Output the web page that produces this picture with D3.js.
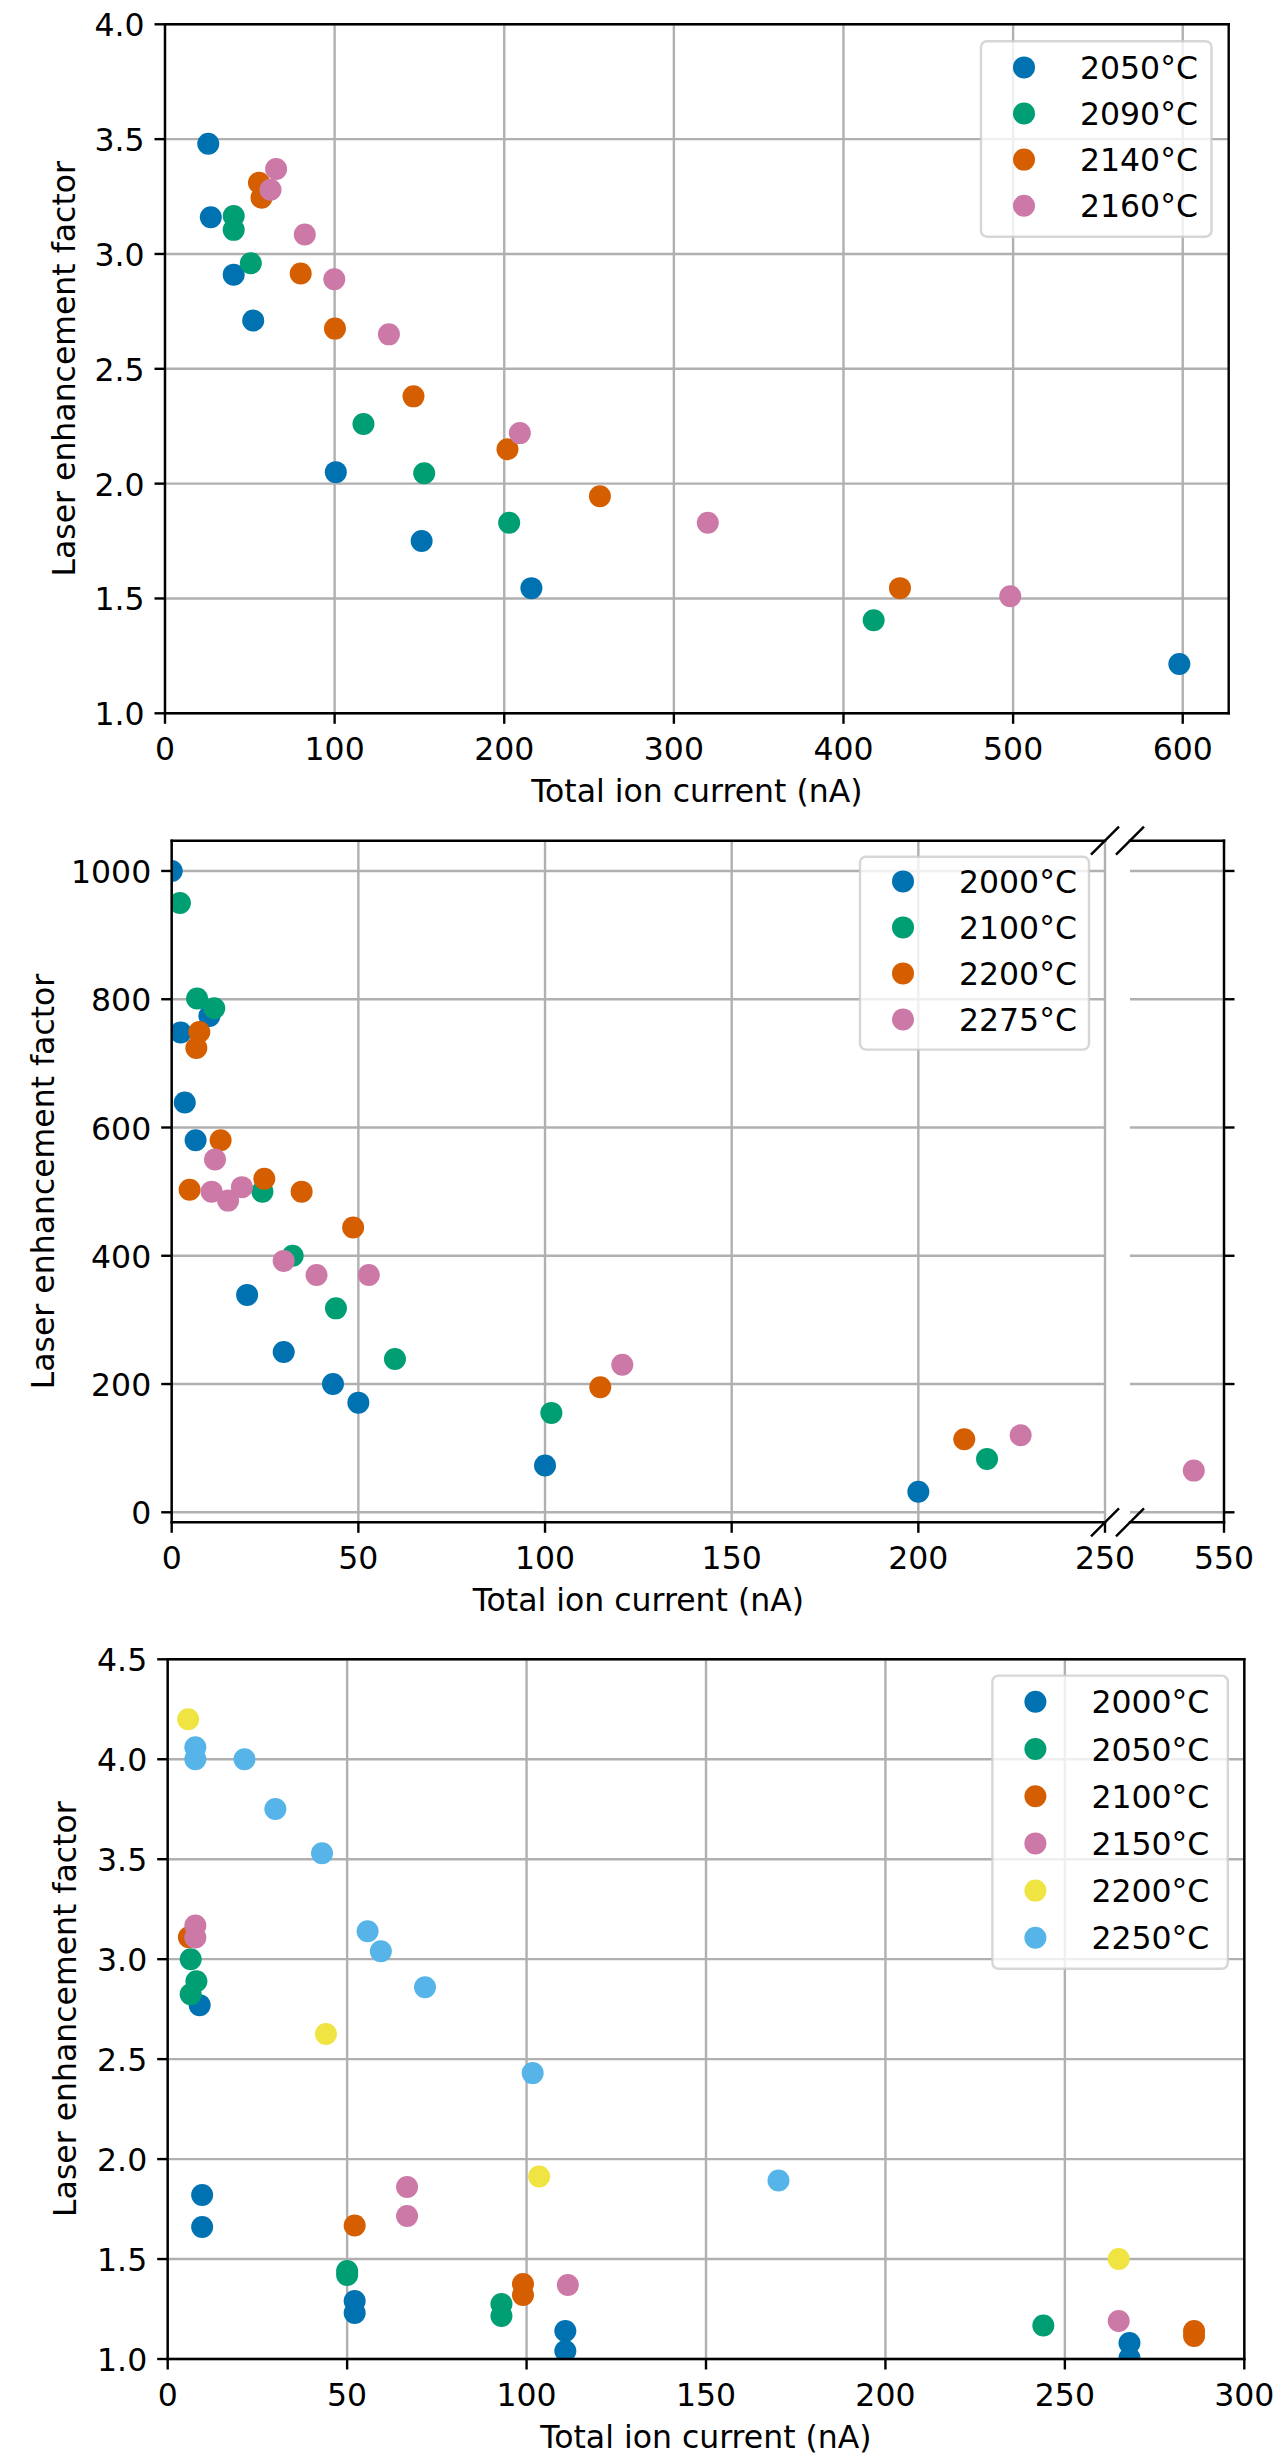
<!DOCTYPE html>
<html>
<head>
<meta charset="utf-8">
<script src="https://cdn.jsdelivr.net/npm/d3@7"></script>
<style>
  html, body { margin: 0; padding: 0; background: #ffffff; }
  svg { display: block; }
</style>
</head>
<body>
<svg id="fig" width="1281" height="2462"></svg>
<script>
// ---------- Panel A : temperatures 2050–2160 °C ----------
const aTemps = ["2050°C", "2090°C", "2140°C", "2160°C"];
const aCurrent2050 = [25.5, 27, 40.5, 52, 100.7, 151.3, 216, 598];
const aFactor2050  = [3.48, 3.16, 2.91, 2.71, 2.05, 1.75, 1.545, 1.215];
const aCurrent2090 = [40.5, 40.5, 50.6, 117, 152.8, 202.9, 417.8];
const aFactor2090  = [3.165, 3.105, 2.96, 2.26, 2.045, 1.83, 1.405];
const aCurrent2140 = [55.4, 56.9, 80, 100.2, 146.5, 201.9, 256.4, 433.3];
const aFactor2140  = [3.31, 3.245, 2.915, 2.675, 2.38, 2.15, 1.945, 1.545];
const aCurrent2160 = [65.5, 62.2, 82.4, 99.8, 132, 209.2, 320, 498.3];
const aFactor2160  = [3.37, 3.28, 3.085, 2.89, 2.65, 2.22, 1.83, 1.51];
const aXTicks = [0, 100, 200, 300, 400, 500, 600];
const aYTicks = [1.0, 1.5, 2.0, 2.5, 3.0, 3.5, 4.0];

// ---------- Panel B : temperatures 2000–2275 °C, broken x axis ----------
const bTemps = ["2000°C", "2100°C", "2200°C", "2275°C"];
const bCurrent2000 = [0, 2.4, 3.5, 6.4, 10.1, 20.2, 30, 43.2, 50, 100, 200];
const bFactor2000  = [1000, 748, 639, 580, 774, 339, 250, 200, 171, 73, 32];
const bCurrent2100 = [2.2, 6.8, 11.4, 24.3, 32.4, 44, 59.8, 101.7, 218.4];
const bFactor2100  = [950, 801, 786, 500, 400, 318, 239, 155, 83];
const bCurrent2200 = [7.4, 6.6, 13.1, 4.8, 24.8, 34.8, 48.6, 114.8, 212.3];
const bFactor2200  = [749, 724, 580, 503, 520, 500, 444, 195, 114];
const bCurrent2275 = [11.6, 10.7, 15.1, 18.8, 30, 38.8, 52.8, 120.7, 227.4, 541.9];
const bFactor2275  = [550, 500, 486, 507, 392, 370, 370, 230, 120, 65];
const bXTicksMain = [0, 50, 100, 150, 200, 250];
const bXTicksTail = [550];
const bYTicks = [0, 200, 400, 600, 800, 1000];

// ---------- Panel C : temperatures 2000–2250 °C ----------
const cTemps = ["2000°C", "2050°C", "2100°C", "2150°C", "2200°C", "2250°C"];
const cCurrent2000 = [8.9, 9.6, 9.6, 52.1, 52.1, 110.8, 110.8, 268, 268];
const cFactor2000  = [2.77, 1.82, 1.66, 1.29, 1.23, 1.14, 1.04, 1.08, 1.005];
const cCurrent2050 = [6.4, 8, 6.4, 50, 50, 93, 93, 244];
const cFactor2050  = [3.0, 2.89, 2.825, 1.44, 1.42, 1.275, 1.215, 1.168];
const cCurrent2100 = [5.9, 52.1, 99, 99, 286, 286];
const cFactor2100  = [3.11, 1.668, 1.375, 1.32, 1.14, 1.115];
const cCurrent2150 = [7.7, 7.7, 66.7, 66.7, 111.5, 265];
const cFactor2150  = [3.168, 3.108, 1.86, 1.715, 1.37, 1.19];
const cCurrent2200 = [5.7, 44.1, 103.5, 265];
const cFactor2200  = [4.2, 2.626, 1.913, 1.5];
const cCurrent2250 = [7.7, 7.7, 21.4, 30, 43, 55.7, 59.4, 71.7, 101.7, 170.2];
const cFactor2250  = [4.06, 4.0, 4.0, 3.751, 3.53, 3.14, 3.04, 2.86, 2.43, 1.893];
const cXTicks = [0, 50, 100, 150, 200, 250, 300];
const cYTicks = [1.0, 1.5, 2.0, 2.5, 3.0, 3.5, 4.0, 4.5];

// colour cycle (seaborn "colorblind")
const palette = ["#0072B2", "#009E73", "#D55E00", "#CC79A7", "#F0E442", "#56B4E9"];

const xLabel = "Total ion current (nA)";
const yLabel = "Laser enhancement factor";

// ---------- drawing helpers ----------
const FONT = '"DejaVu Sans", "Liberation Sans", sans-serif';
const FS = 31.5;        // tick / label font size (px)
const HALF_CAP = 11.5;  // half the digit height at FS
const LW = 2.4;         // spine, tick and grid width
const TICK = 10.5;      // tick length
const R = 11;           // marker radius
const GRID = "#b0b0b0";

const svg = d3.select("#fig");
svg.append("rect").attr("width", 1281).attr("height", 2462).attr("fill", "#fff");

function zip(xs, ys) { return xs.map((x, i) => [x, ys[i]]); }

let clipId = 0;
function makeClip(x0, y0, x1, y1) {
  const id = "clip" + (clipId++);
  svg.append("clipPath").attr("id", id)
    .append("rect").attr("x", x0).attr("y", y0).attr("width", x1 - x0).attr("height", y1 - y0);
  return "url(#" + id + ")";
}

function gridX(g, x, ticks, y0, y1) {
  g.selectAll(null).data(ticks).enter().append("line")
    .attr("x1", d => x(d)).attr("x2", d => x(d)).attr("y1", y0).attr("y2", y1)
    .attr("stroke", GRID).attr("stroke-width", LW);
}
function gridY(g, y, ticks, x0, x1) {
  g.selectAll(null).data(ticks).enter().append("line")
    .attr("y1", d => y(d)).attr("y2", d => y(d)).attr("x1", x0).attr("x2", x1)
    .attr("stroke", GRID).attr("stroke-width", LW);
}
function line(g, x1, y1, x2, y2) {
  g.append("line").attr("x1", x1).attr("y1", y1).attr("x2", x2).attr("y2", y2)
    .attr("stroke", "#000").attr("stroke-width", LW).attr("stroke-linecap", "square");
}
function xTicks(g, x, ticks, yb, fmt) {
  g.selectAll(null).data(ticks).enter().append("line")
    .attr("x1", d => x(d)).attr("x2", d => x(d)).attr("y1", yb).attr("y2", yb + TICK)
    .attr("stroke", "#000").attr("stroke-width", LW);
  g.selectAll(null).data(ticks).enter().append("text")
    .attr("x", d => x(d)).attr("y", yb + 47).attr("text-anchor", "middle")
    .attr("font-family", FONT).attr("font-size", FS).attr("fill", "#000")
    .text(fmt);
}
function yTicks(g, y, ticks, xl, fmt, labels = true, side = -1) {
  g.selectAll(null).data(ticks).enter().append("line")
    .attr("y1", d => y(d)).attr("y2", d => y(d)).attr("x1", xl).attr("x2", xl + side * TICK)
    .attr("stroke", "#000").attr("stroke-width", LW);
  if (labels) {
    g.selectAll(null).data(ticks).enter().append("text")
      .attr("x", xl - TICK - 10).attr("y", d => y(d) + HALF_CAP + 0.5).attr("text-anchor", "end")
      .attr("font-family", FONT).attr("font-size", FS).attr("fill", "#000")
      .text(fmt);
  }
}
function points(g, x, y, series, clip) {
  const layer = g.append("g").attr("clip-path", clip);
  series.forEach((s, i) => {
    layer.append("g").selectAll("circle").data(s).enter().append("circle")
      .attr("cx", d => x(d[0])).attr("cy", d => y(d[1])).attr("r", R)
      .attr("fill", palette[i]);
  });
}
function legend(g, labels, bx, by, bw, firstRow, step, bottomPad) {
  const bh = firstRow + step * (labels.length - 1) + bottomPad;
  g.append("rect").attr("x", bx).attr("y", by).attr("width", bw).attr("height", bh)
    .attr("rx", 6).attr("ry", 6)
    .attr("fill", "#fff").attr("fill-opacity", 0.8)
    .attr("stroke", "#cccccc").attr("stroke-opacity", 0.8).attr("stroke-width", LW);
  const rows = g.selectAll(null).data(labels).enter().append("g")
    .attr("transform", (d, i) => `translate(${bx},${by + firstRow + i * step})`);
  rows.append("circle").attr("cx", 43).attr("cy", 0).attr("r", R).attr("fill", (d, i) => palette[i]);
  rows.append("text").attr("x", 99).attr("y", HALF_CAP)
    .attr("font-family", FONT).attr("font-size", FS).attr("fill", "#000").text(d => d);
}
function xTitle(g, cx, yb) {
  g.append("text").attr("x", cx).attr("y", yb + 89).attr("text-anchor", "middle")
    .attr("font-family", FONT).attr("font-size", FS).attr("fill", "#000").text(xLabel);
}
// cx is the horizontal centre of the rotated title's letters
function yTitle(g, cx, cy) {
  g.append("text").attr("transform", `translate(${cx + HALF_CAP},${cy}) rotate(-90)`)
    .attr("text-anchor", "middle")
    .attr("font-family", FONT).attr("font-size", FS).attr("fill", "#000").text(yLabel);
}

// ---------- Panel A ----------
(function () {
  const L = 165, Rr = 1228.7, T = 24.3, B = 713.3;
  const x = d3.scaleLinear().domain([0, 627.1]).range([L, Rr]);
  const y = d3.scaleLinear().domain([1.0, 4.0]).range([B, T]);
  const g = svg.append("g");
  gridX(g, x, aXTicks, T, B);
  gridY(g, y, aYTicks, L, Rr);
  points(g, x, y, [zip(aCurrent2050, aFactor2050), zip(aCurrent2090, aFactor2090),
                   zip(aCurrent2140, aFactor2140), zip(aCurrent2160, aFactor2160)],
         makeClip(L, T, Rr, B));
  line(g, L, T, Rr, T); line(g, L, B, Rr, B); line(g, L, T, L, B); line(g, Rr, T, Rr, B);
  xTicks(g, x, aXTicks, B, d => d3.format("d")(d));
  yTicks(g, y, aYTicks, L, d => d3.format(".1f")(d));
  legend(g, aTemps, 981, 41.2, 230.5, 26.2, 46.1, 31);
  xTitle(g, (L + Rr) / 2, B);
  yTitle(g, 63.5, (T + B) / 2);
})();

// ---------- Panel B (broken axis) ----------
(function () {
  const L = 171.7, Rm = 1105, L2 = 1130, R2 = 1224, T = 840.7, B = 1522.3;
  const xm = d3.scaleLinear().domain([0, 250]).range([L, Rm]);
  const xt = d3.scaleLinear().domain([524.8, 550]).range([L2, R2]);
  const y = d3.scaleLinear().domain([-15.6, 1047.2]).range([B, T]);
  const g = svg.append("g");
  gridX(g, xm, bXTicksMain, T, B);
  gridY(g, y, bYTicks, L, Rm);
  gridX(g, xt, bXTicksTail, T, B);
  gridY(g, y, bYTicks, L2, R2);
  const series = [zip(bCurrent2000, bFactor2000), zip(bCurrent2100, bFactor2100),
                  zip(bCurrent2200, bFactor2200), zip(bCurrent2275, bFactor2275)];
  points(g, xm, y, series, makeClip(L, T, Rm, B));
  points(g, xt, y, series, makeClip(L2, T, R2, B));
  // spines: left part (no right spine), tail part (no left spine)
  line(g, L, T, Rm, T); line(g, L, B, Rm, B); line(g, L, T, L, B);
  line(g, L2, T, R2, T); line(g, L2, B, R2, B); line(g, R2, T, R2, B);
  xTicks(g, xm, bXTicksMain, B, d => d3.format("d")(d));
  xTicks(g, xt, bXTicksTail, B, d => d3.format("d")(d));
  yTicks(g, y, bYTicks, L, d => d3.format("d")(d));
  yTicks(g, y, bYTicks, R2, null, false, 1);
  // break marks
  const d = 14;
  [[Rm, T], [L2, T], [Rm, B], [L2, B]].forEach(([cx, cy]) => {
    g.append("line").attr("x1", cx - d).attr("y1", cy + d).attr("x2", cx + d).attr("y2", cy - d)
      .attr("stroke", "#000").attr("stroke-width", LW);
  });
  legend(g, bTemps, 860, 856.7, 229, 24.7, 46, 30.2);
  xTitle(g, (L + Rm) / 2, B);
  yTitle(g, 42, (T + B) / 2);
})();

// ---------- Panel C ----------
(function () {
  const L = 167.7, Rr = 1244.3, T = 1659.3, B = 2359;
  const x = d3.scaleLinear().domain([0, 300]).range([L, Rr]);
  const y = d3.scaleLinear().domain([1.0, 4.5]).range([B, T]);
  const g = svg.append("g");
  gridX(g, x, cXTicks, T, B);
  gridY(g, y, cYTicks, L, Rr);
  points(g, x, y, [zip(cCurrent2000, cFactor2000), zip(cCurrent2050, cFactor2050),
                   zip(cCurrent2100, cFactor2100), zip(cCurrent2150, cFactor2150),
                   zip(cCurrent2200, cFactor2200), zip(cCurrent2250, cFactor2250)],
         makeClip(L, T, Rr, B));
  line(g, L, T, Rr, T); line(g, L, B, Rr, B); line(g, L, T, L, B); line(g, Rr, T, Rr, B);
  xTicks(g, x, cXTicks, B, d => d3.format("d")(d));
  yTicks(g, y, cYTicks, L, d => d3.format(".1f")(d));
  legend(g, cTemps, 992.4, 1675.6, 235.4, 26.2, 47.2, 31);
  xTitle(g, (L + Rr) / 2, B);
  yTitle(g, 64.5, (T + B) / 2);
})();
</script>
</body>
</html>
